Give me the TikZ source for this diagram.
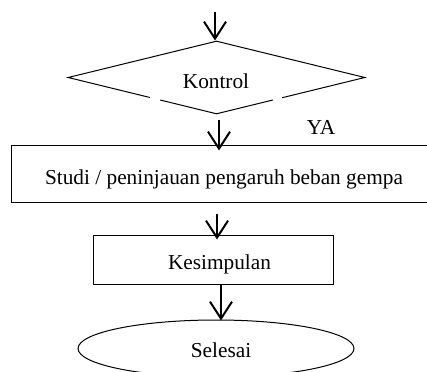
\documentclass[tikz,border=0pt]{standalone}
\usepackage{fontspec}
\setmainfont{Liberation Serif}
\usetikzlibrary{shapes.geometric,arrows.meta}
\tikzset{
  shape line/.style={draw=black, line width=1pt},
  flowarrow/.style={line width=2pt, -{Straight Barb[length=17pt,width=22pt,line width=2pt]}},
  lbl/.style={anchor=base, inner sep=0pt, font=\fontsize{21.3}{25}\selectfont},
}
\begin{document}
\begin{tikzpicture}[x=1pt,y=-1pt]
\useasboundingbox (0,0) rectangle (427,371);
\clip (0,0) rectangle (427,371);
% shapes
\node[shape line, diamond, minimum width=297pt, minimum height=73pt, inner sep=0pt, aspect=4.07] (kontrol) at (216.5,77.5) {};
\node[shape line, rectangle, minimum width=418pt, minimum height=56pt, inner sep=0pt] (studi) at (220,174) {};
\node[shape line, rectangle, minimum width=240pt, minimum height=49pt, inner sep=0pt] (kesimpulan) at (213,259.5) {};
\node[shape line, ellipse, minimum width=276pt, minimum height=57pt, inner sep=0pt] (selesai) at (216,348.5) {};
% small gaps in the lower diamond edges
\draw[white, line width=3pt] (150,97.9) -- (160,100.3);
\draw[white, line width=3pt] (273,100.3) -- (282,98.1);
% labels
\node[lbl] (kontroltext) at (216,89) {Kontrol};
\node[lbl] (ya) at (321,135) {YA};
\node[lbl] (studitext) at (224,184) {Studi / peninjauan pengaruh beban gempa};
\node[lbl] (kesimpulantext) at (219.5,269) {Kesimpulan};
\node[lbl] (selesaitext) at (221,357) {Selesai};
% connectors
\coordinate (start) at (215,12);
\draw[flowarrow] (start) -- (start |- kontrol.north);
\draw[flowarrow] ([xshift=2.5pt,yshift=-6pt]kontrol.south) -- ([xshift=2.5pt,yshift=-5pt]kontrol.south |- studi.north);
\draw[flowarrow] ([xshift=-3pt,yshift=-11pt]studi.south) -- ([xshift=-3pt,yshift=-5pt]studi.south |- kesimpulan.north);
\draw[flowarrow] ([xshift=8pt]kesimpulan.south) -- ([xshift=8pt,yshift=-1pt]kesimpulan.south |- selesai.north);
\end{tikzpicture}
\end{document}
